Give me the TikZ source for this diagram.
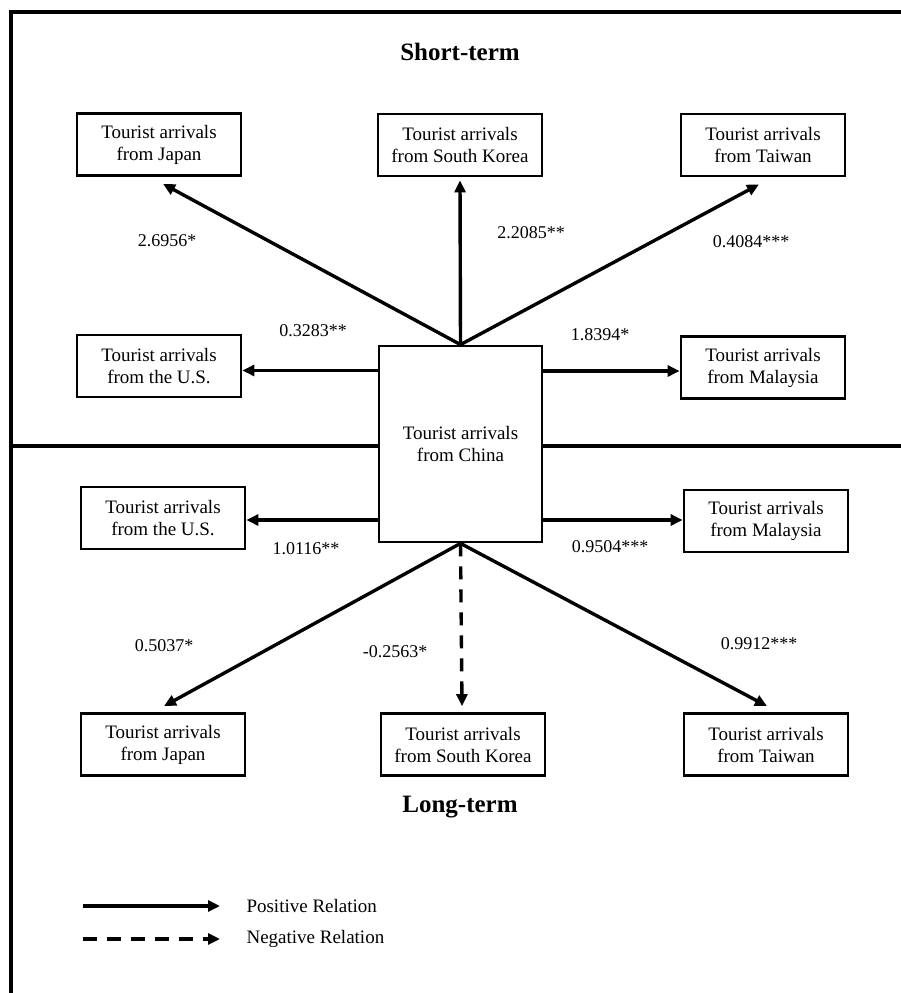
\documentclass[tikz,border=0pt]{standalone}
\usepackage{fontspec}
\setmainfont{Liberation Serif}
\usetikzlibrary{arrows.meta}
\begin{document}
\begin{tikzpicture}[x=1pt,y=-1pt,
  box/.style={draw,line width=2.8pt,minimum width=164pt,minimum height=62pt,inner sep=0pt,align=center,font=\fontsize{19}{22}\selectfont},
  bigbox/.style={draw,line width=2.8pt,minimum width=163pt,minimum height=196pt,inner sep=0pt,align=center,font=\fontsize{19}{22}\selectfont},
  rel/.style={line width=3.4pt,-{Triangle[length=12pt,width=11pt]}},
  neg/.style={rel,dash pattern=on 13pt off 10pt},
  coef/.style={font=\fontsize{18}{20}\selectfont},
  ttl/.style={font=\fontsize{25}{28}\selectfont\bfseries},
  leg/.style={anchor=west,font=\fontsize{19}{22}\selectfont}]
\useasboundingbox (0,0) rectangle (901,993);
% frame
\coordinate (fa) at (11,993);
\coordinate (fb) at (11,12);
\coordinate (fc) at (901,12);
\draw[line width=3.8pt] (fa) -- (fb) -- (fc);
% titles
\node[ttl] (st) at (460,52) {Short-term};
\node[ttl] (lt) at (460,807) {Long-term};
% center
\node[bigbox] (china) at (460.5,444) {Tourist arrivals\\from China};
% divider
\coordinate (dl) at (11,446);
\coordinate (dr) at (901,446);
\draw[line width=3.8pt] (dl) -- (china.west |- dl);
\draw[line width=3.8pt] (china.east |- dr) -- (dr);
% short-term boxes
\node[box] (jp1) at (159,144.5) {Tourist arrivals\\from Japan};
\node[box] (kr1) at (460,145) {Tourist arrivals\\from South Korea};
\node[box] (tw1) at (763,145) {Tourist arrivals\\from Taiwan};
\node[box] (us1) at (159,366) {Tourist arrivals\\from the U.S.};
\node[box] (my1) at (763,367.5) {Tourist arrivals\\from Malaysia};
% long-term boxes
\node[box] (us2) at (163,518) {Tourist arrivals\\from the U.S.};
\node[box] (my2) at (766,521) {Tourist arrivals\\from Malaysia};
\node[box] (jp2) at (163,744.5) {Tourist arrivals\\from Japan};
\node[box] (kr2) at (463,744.5) {Tourist arrivals\\from South Korea};
\node[box] (tw2) at (766,744.5) {Tourist arrivals\\from Taiwan};
% short-term arrows
\draw[rel] (china.north) -- ([xshift=4pt,yshift=-7pt]jp1.south);
\draw[rel] (china.north) -- ([yshift=-3pt]kr1.south);
\draw[rel] (china.north) -- ([xshift=-4pt,yshift=-7pt]tw1.south);
\draw[rel] ([yshift=-4.5pt]china.west |- us1.east) -- ([yshift=-4.5pt]us1.east);
\draw[rel] ([yshift=-3.5pt]china.east |- my1.west) -- ([yshift=-3.5pt]my1.west);
% long-term arrows
\draw[rel] ([yshift=-2pt]china.west |- us2.east) -- ([yshift=-2pt]us2.east);
\draw[rel] ([yshift=1pt]china.east |- my2.west) -- ([yshift=1pt]my2.west);
\draw[rel] (china.south) -- ([xshift=1pt,yshift=6pt]jp2.north);
\draw[neg] (china.south) -- ([xshift=-1pt,yshift=6pt]kr2.north);
\draw[rel] (china.south) -- ([xshift=1pt,yshift=6pt]tw2.north);
% coefficients
\node[coef] (c1) at (167,241) {2.6956*};
\node[coef] (c2) at (313,331) {0.3283**};
\node[coef] (c3) at (531,233) {2.2085**};
\node[coef] (c4) at (751,242) {0.4084***};
\node[coef] (c5) at (600,335) {1.8394*};
\node[coef] (c6) at (306,549) {1.0116**};
\node[coef] (c7) at (610,547) {0.9504***};
\node[coef] (c8) at (164,646) {0.5037*};
\node[coef] (c9) at (395,652) {-0.2563*};
\node[coef] (c10) at (759,644) {0.9912***};
% legend
\coordinate (l1s) at (83,906);
\coordinate (l1e) at (220,906);
\coordinate (l2s) at (83,939);
\coordinate (l2e) at (220,939);
\draw[rel] (l1s) -- (l1e);
\draw[neg,dash pattern=on 14pt off 10pt] (l2s) -- (l2e);
\node[leg] (t1) at (243,906) {Positive Relation};
\node[leg] (t2) at (243,939) {Negative Relation};
\end{tikzpicture}
\end{document}
